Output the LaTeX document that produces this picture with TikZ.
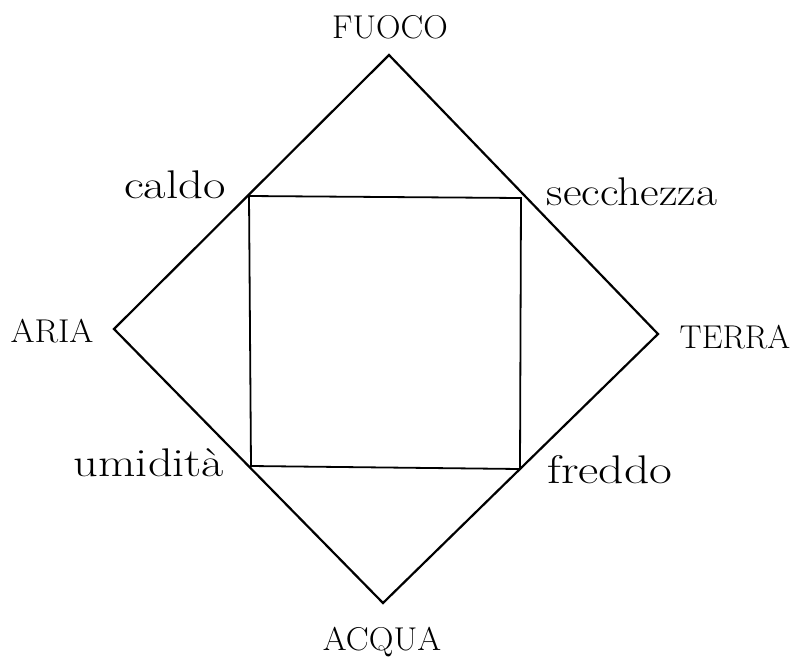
\documentclass[tikz,border=0pt]{standalone}
\usepackage{graphicx}
\begin{document}
\begin{tikzpicture}[x=1pt,y=-1pt,
  caps/.style={font=\fontsize{33}{33}\selectfont, inner sep=0pt, anchor=base},
  lower/.style={font=\fontsize{40}{40}\selectfont, inner sep=0pt, anchor=base},
  outerline/.style={line width=2.2pt, line join=miter},
  innerline/.style={line width=1.8pt, line join=miter}]
\useasboundingbox (0,0) rectangle (790,657);
% diamond vertices
\coordinate (F) at (389,55);
\coordinate (T) at (658,334);
\coordinate (Q) at (383,603);
\coordinate (A) at (114,329);
% inner square corners
\coordinate (c1) at (249,196);
\coordinate (c2) at (521,198);
\coordinate (c3) at (520,469);
\coordinate (c4) at (251,466);
\draw[outerline] (F) -- (T) -- (Q) -- (A) -- cycle;
\draw[innerline] (c1) -- (c2) -- (c3) -- (c4) -- cycle;
% labels
\node[caps] (fuoco) at (390,38) {\scalebox{1.03}[1]{FUOCO}};
\node[caps] (aria) at (52,342) {\scalebox{1.05}[1]{ARIA}};
\node[caps] (terra) at (735,348) {TERRA};
\node[caps] (acqua) at (382,650) {\scalebox{1.04}[1]{ACQUA}};
\node[lower] (caldo) at (175,198) {\scalebox{1.22}[1]{caldo}};
\node[lower] (secchezza) at (632,205) {\scalebox{1.14}[1]{secchezza}};
\node[lower] (umidita) at (149,476) {\scalebox{1.21}[1]{umidità}};
\node[lower] (freddo) at (610,483) {\scalebox{1.24}[1]{freddo}};
\end{tikzpicture}
\end{document}
